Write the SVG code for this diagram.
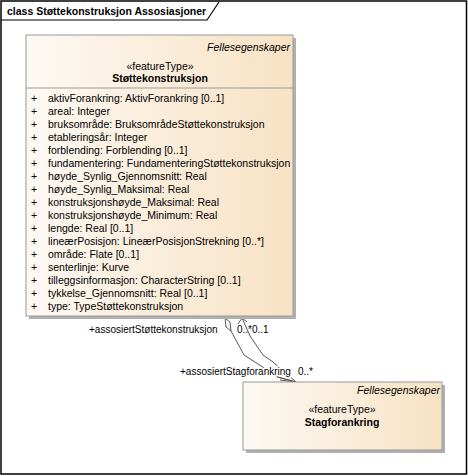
<svg xmlns="http://www.w3.org/2000/svg" width="468" height="476" viewBox="0 0 468 476">
<style>
text{font-family:"Liberation Sans",Arial,sans-serif;font-size:10.5px;fill:#000}
.b{font-weight:bold}
.i{font-style:italic}
.lb{font-size:10px}
.box{fill:url(#g);stroke:#9a9a9a;stroke-width:1}
.sh{fill:#b0b0b0}
.ln{fill:none;stroke:#555;stroke-width:1}
.halo{paint-order:stroke;stroke:#fff;stroke-width:3px;stroke-linejoin:round}
</style>
<defs>
<linearGradient id="g" x1="0" y1="0" x2="1" y2="0">
<stop offset="0" stop-color="#fdf9f3"/>
<stop offset="1" stop-color="#f8e2c4"/>
</linearGradient>
</defs>
<rect x="1" y="1" width="465.5" height="473" fill="#fff" stroke="#000" stroke-width="1.5"/>
<path d="M1,20 H207 L219,2" fill="none" stroke="#000" stroke-width="1.2"/>
<text class="b" x="7" y="15">class Støttekonstruksjon Assosiasjoner</text>

<g id="connectors">
<path class="ln" d="M231,331 L244,355 L258,364 L278,377 L296,382"/>
<path class="ln" d="M225,318 L230,322 L231,331 L226,327 Z" fill="#fff"/>
<path class="ln" d="M242,318 L250,336 L263,355 L273,362 L287,374 L296,382"/>
<path class="ln" d="M238,324 L242,318 L247,322"/>
<path class="ln" d="M277,377 L296,382 L280,380"/>
<text class="lb" x="89" y="333">+assosiertStøttekonstruksjon</text>
<text class="lb" x="237" y="333">0..*</text>
<text class="lb" x="252" y="333">0..1</text>
<text class="lb halo" x="180" y="375">+assosiertStagforankring</text>
<text class="lb" x="298" y="375">0..*</text>
</g>

<g id="Stottekonstruksjon">
<rect class="sh" x="29" y="38" width="267" height="281"/>
<rect class="box" x="26" y="35" width="267" height="281"/>
<line x1="26" y1="88" x2="293" y2="88" stroke="#9a9a9a"/>
<text class="i" x="290" y="51" text-anchor="end">Fellesegenskaper</text>
<text x="160" y="70" text-anchor="middle">«featureType»</text>
<text class="b" x="160" y="82" text-anchor="middle">Støttekonstruksjon</text>
<g>
<text x="31" y="102">+</text><text x="48" y="102">aktivForankring: AktivForankring [0..1]</text>
<text x="31" y="115">+</text><text x="48" y="115">areal: Integer</text>
<text x="31" y="128">+</text><text x="48" y="128">bruksområde: BruksområdeStøttekonstruksjon</text>
<text x="31" y="141">+</text><text x="48" y="141">etableringsår: Integer</text>
<text x="31" y="154">+</text><text x="48" y="154">forblending: Forblending [0..1]</text>
<text x="31" y="167">+</text><text x="48" y="167">fundamentering: FundamenteringStøttekonstruksjon</text>
<text x="31" y="180">+</text><text x="48" y="180">høyde_Synlig_Gjennomsnitt: Real</text>
<text x="31" y="193">+</text><text x="48" y="193">høyde_Synlig_Maksimal: Real</text>
<text x="31" y="206">+</text><text x="48" y="206">konstruksjonshøyde_Maksimal: Real</text>
<text x="31" y="219">+</text><text x="48" y="219">konstruksjonshøyde_Minimum: Real</text>
<text x="31" y="232">+</text><text x="48" y="232">lengde: Real [0..1]</text>
<text x="31" y="245">+</text><text x="48" y="245">lineærPosisjon: LineærPosisjonStrekning [0..*]</text>
<text x="31" y="258">+</text><text x="48" y="258">område: Flate [0..1]</text>
<text x="31" y="271">+</text><text x="48" y="271">senterlinje: Kurve</text>
<text x="31" y="284">+</text><text x="48" y="284">tilleggsinformasjon: CharacterString [0..1]</text>
<text x="31" y="297">+</text><text x="48" y="297">tykkelse_Gjennomsnitt: Real [0..1]</text>
<text x="31" y="310">+</text><text x="48" y="310">type: TypeStøttekonstruksjon</text>
</g>
</g>

<g id="Stagforankring">
<rect class="sh" x="246" y="385" width="199" height="68"/>
<rect class="box" x="243" y="382" width="199" height="68"/>
<text class="i" x="440" y="394" text-anchor="end">Fellesegenskaper</text>
<text x="342" y="413" text-anchor="middle">«featureType»</text>
<text class="b" x="342" y="426" text-anchor="middle">Stagforankring</text>
</g>
</svg>
